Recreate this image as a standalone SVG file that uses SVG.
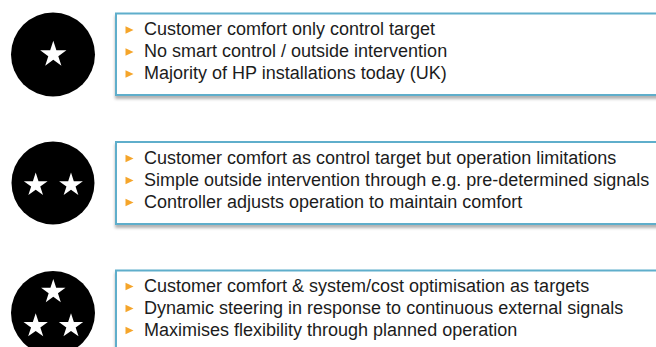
<svg xmlns="http://www.w3.org/2000/svg" xmlns:xlink="http://www.w3.org/1999/xlink" width="656" height="347" viewBox="0 0 656 347">
  <style>
    .box { fill: #ffffff; stroke: #5eaecb; stroke-width: 2; filter: url(#shadow); }
    .disc { fill: #000000; }
    .star { fill: #ffffff; }
    .txt { font-family: "Liberation Sans", Arial, sans-serif; font-size: 18px; fill: #1c1c1c; }
    .bul { fill: #f5a52a; }
  </style>
  <defs>
    <filter id="shadow" x="-5%" y="-20%" width="110%" height="150%">
      <feDropShadow dx="0" dy="3" stdDeviation="1.5" flood-color="#000000" flood-opacity="0.3"/>
    </filter>
    <path id="star" d="M0,-10 L2.245,-3.09 L9.511,-3.09 L3.633,1.18 L5.878,8.09 L0,3.82 L-5.878,8.09 L-3.633,1.18 L-9.511,-3.09 L-2.245,-3.09 Z"/>
    <path id="bullet" d="M0,-3.8 L8,0 L0,3.8 Z"/>
  </defs>

  <g id="connectors"/>

  <g id="level1-icon">
    <circle class="disc" cx="53" cy="54.5" r="42"/>
    <use xlink:href="#star" class="star" transform="translate(53.3,54.5) scale(1.38)"/>
  </g>
  <g id="level1-box">
    <rect class="box" x="116" y="13.5" width="600" height="81.5"/>
    <use xlink:href="#bullet" class="bul" transform="translate(125.5,30)"/>
    <use xlink:href="#bullet" class="bul" transform="translate(125.5,52)"/>
    <use xlink:href="#bullet" class="bul" transform="translate(125.5,74)"/>
    <text class="txt" x="144" y="35">Customer comfort only control target</text>
    <text class="txt" x="144" y="57">No smart control / outside intervention</text>
    <text class="txt" x="144" y="79">Majority of HP installations today (UK)</text>
  </g>

  <g id="level2-icon">
    <circle class="disc" cx="53" cy="183" r="41.5"/>
    <use xlink:href="#star" class="star" transform="translate(35.7,185) scale(1.25)"/>
    <use xlink:href="#star" class="star" transform="translate(71,185) scale(1.25)"/>
  </g>
  <g id="level2-box">
    <rect class="box" x="116" y="142" width="600" height="82"/>
    <use xlink:href="#bullet" class="bul" transform="translate(125.5,158.5)"/>
    <use xlink:href="#bullet" class="bul" transform="translate(125.5,180.5)"/>
    <use xlink:href="#bullet" class="bul" transform="translate(125.5,202.5)"/>
    <text class="txt" x="144" y="163.5">Customer comfort as control target but operation limitations</text>
    <text class="txt" x="144" y="185.5">Simple outside intervention through e.g. pre-determined signals</text>
    <text class="txt" x="144" y="207.5">Controller adjusts operation to maintain comfort</text>
  </g>

  <g id="level3-icon">
    <circle class="disc" cx="53" cy="313" r="42"/>
    <use xlink:href="#star" class="star" transform="translate(53.3,291.8) scale(1.28)"/>
    <use xlink:href="#star" class="star" transform="translate(35.7,326) scale(1.28)"/>
    <use xlink:href="#star" class="star" transform="translate(71,326) scale(1.28)"/>
  </g>
  <g id="level3-box">
    <rect class="box" x="116" y="270.5" width="600" height="82"/>
    <use xlink:href="#bullet" class="bul" transform="translate(125.5,286.5)"/>
    <use xlink:href="#bullet" class="bul" transform="translate(125.5,308.5)"/>
    <use xlink:href="#bullet" class="bul" transform="translate(125.5,330.5)"/>
    <text class="txt" x="144" y="291.5">Customer comfort &amp; system/cost optimisation as targets</text>
    <text class="txt" x="144" y="313.5">Dynamic steering in response to continuous external signals</text>
    <text class="txt" x="144" y="335.5">Maximises flexibility through planned operation</text>
  </g>
</svg>
